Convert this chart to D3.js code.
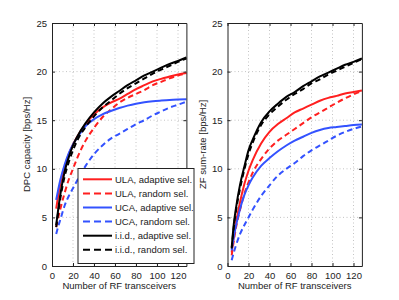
<!DOCTYPE html>
<html>
<head>
<meta charset="utf-8">
<script src="https://cdn.jsdelivr.net/npm/d3@7"></script>
<style>
  html, body { margin: 0; padding: 0; background: #fff; }
  svg { display: block; }
  text { font-family: "Liberation Sans", Arial, Helvetica, sans-serif; fill: #222; }
</style>
</head>
<body>
<svg id="chart" width="399" height="300"></svg>
<script>
// ---- data ----
const rfCounts = [4, 6, 8, 12, 16, 20, 24, 32, 40, 48, 56, 64, 72, 80, 88, 96, 104, 112, 120, 128];
const xTicks = [0, 20, 40, 60, 80, 100, 120];
const yTicks = [0, 5, 10, 15, 20, 25];
const seriesNames = ["ULA, adaptive sel.", "ULA, random sel.", "UCA, adaptive sel.", "UCA, random sel.", "i.i.d., adaptive sel.", "i.i.d., random sel."];

const dpcUlaAdaptive = [5.9, 7.3, 8.5, 10.2, 11.5, 12.5, 13.3, 14.6, 15.6, 16.3, 16.8, 17.2, 17.7, 18.2, 18.6, 19.0, 19.25, 19.5, 19.7, 19.85];
const dpcUlaRandom   = [4.0, 5.0, 5.9, 7.5, 8.9, 10.0, 11.1, 12.9, 14.2, 15.3, 16.1, 16.8, 17.3, 17.7, 18.1, 18.6, 18.95, 19.3, 19.6, 19.8];
const dpcUcaAdaptive = [6.8, 7.9, 8.9, 10.4, 11.6, 12.5, 13.2, 14.4, 15.1, 15.6, 15.95, 16.25, 16.5, 16.7, 16.85, 16.95, 17.02, 17.08, 17.12, 17.15];
const dpcUcaRandom   = [3.3, 4.1, 4.8, 6.2, 7.2, 8.0, 8.8, 10.3, 11.5, 12.4, 13.1, 13.6, 14.1, 14.6, 15.0, 15.5, 15.9, 16.3, 16.6, 16.9];
const dpcIidAdaptive = [4.2, 5.9, 7.4, 9.7, 11.2, 12.4, 13.3, 14.7, 15.8, 16.7, 17.4, 18.0, 18.6, 19.1, 19.6, 20.0, 20.4, 20.8, 21.1, 21.45];
const dpcIidRandom   = [4.0, 5.6, 7.0, 9.2, 10.7, 11.9, 12.9, 14.3, 15.4, 16.3, 17.0, 17.7, 18.3, 18.8, 19.3, 19.8, 20.2, 20.6, 21.0, 21.35];

const zfUlaAdaptive = [1.4, 3.0, 4.4, 6.6, 8.4, 9.8, 10.9, 12.6, 13.8, 14.6, 15.2, 15.8, 16.2, 16.6, 17.0, 17.3, 17.5, 17.75, 17.9, 18.05];
const zfUlaRandom   = [1.1, 2.6, 3.9, 5.8, 7.4, 8.6, 9.6, 11.0, 12.1, 12.9, 13.5, 14.1, 14.7, 15.3, 15.8, 16.3, 16.8, 17.25, 17.65, 18.0];
const zfUcaAdaptive = [1.6, 3.0, 4.1, 5.9, 7.3, 8.3, 9.1, 10.3, 11.1, 11.8, 12.4, 12.9, 13.3, 13.7, 14.0, 14.2, 14.3, 14.4, 14.5, 14.55];
const zfUcaRandom   = [0.6, 1.4, 2.1, 3.3, 4.2, 5.0, 5.8, 7.2, 8.3, 9.3, 10.0, 10.6, 11.3, 11.9, 12.4, 12.9, 13.4, 13.8, 14.1, 14.35];
const zfIidAdaptive = [1.9, 4.3, 5.9, 8.4, 10.2, 11.9, 13.0, 14.8, 15.9, 16.7, 17.4, 17.9, 18.5, 19.0, 19.5, 19.9, 20.3, 20.7, 21.0, 21.35];
const zfIidRandom   = [1.8, 4.0, 5.6, 8.0, 9.9, 11.5, 12.7, 14.5, 15.6, 16.4, 17.1, 17.7, 18.2, 18.8, 19.2, 19.7, 20.1, 20.5, 20.9, 21.3];

// ---- styles ----
const colors = ["#ff1f1f", "#ff1f1f", "#3352ff", "#3352ff", "#000000", "#000000"];
const dashed = [false, true, false, true, false, true];

const svg = d3.select("#chart");
const plotTop = 23, plotBottom = 266;

const panels = [
  { left: 52, right: 186.4, label: "DPC capacity [bps/Hz]", labelX: 30,
    series: [dpcUlaAdaptive, dpcUlaRandom, dpcUcaAdaptive, dpcUcaRandom, dpcIidAdaptive, dpcIidRandom], legend: true },
  { left: 227.5, right: 361.9, label: "ZF sum-rate [bps/Hz]", labelX: 206,
    series: [zfUlaAdaptive, zfUlaRandom, zfUcaAdaptive, zfUcaRandom, zfIidAdaptive, zfIidRandom], legend: false }
];

panels.forEach(p => {
  const x = d3.scaleLinear().domain([0, 128]).range([p.left, p.right]);
  const y = d3.scaleLinear().domain([0, 25]).range([plotBottom, plotTop]);
  const g = svg.append("g");

  g.append("rect").attr("x", p.left).attr("y", plotTop)
    .attr("width", p.right - p.left).attr("height", plotBottom - plotTop).attr("fill", "#fff");

  // grid
  const grid = g.append("g").attr("stroke", "#b5b5b5").attr("stroke-width", 0.8)
    .attr("stroke-dasharray", "1,2.5");
  xTicks.filter(t => t > 0).forEach(t => {
    grid.append("line").attr("x1", x(t)).attr("x2", x(t)).attr("y1", plotTop).attr("y2", plotBottom);
  });
  yTicks.filter(t => t > 0 && t < 25).forEach(t => {
    grid.append("line").attr("x1", p.left).attr("x2", p.right).attr("y1", y(t)).attr("y2", y(t));
  });

  // curves
  const line = d3.line().x((d, i) => x(rfCounts[i])).y(d => y(d)).curve(d3.curveMonotoneX);
  p.series.forEach((s, i) => {
    g.append("path").datum(s).attr("d", line).attr("fill", "none")
      .attr("stroke", colors[i]).attr("stroke-width", 2)
      .attr("stroke-dasharray", dashed[i] ? "5.5,3.5" : null);
  });

  // axes (ticks inward, box)
  const axB = d3.axisBottom(x).tickValues(xTicks).tickSizeInner(-3).tickSizeOuter(0).tickPadding(6);
  const axL = d3.axisLeft(y).tickValues(yTicks).tickSizeInner(-3).tickSizeOuter(0).tickPadding(5);
  const axT = d3.axisTop(x).tickValues(xTicks).tickSizeInner(-3).tickSizeOuter(0).tickFormat("");
  const axR = d3.axisRight(y).tickValues(yTicks).tickSizeInner(-3).tickSizeOuter(0).tickFormat("");
  const gb = g.append("g").attr("transform", `translate(0,${plotBottom})`).call(axB);
  const gl = g.append("g").attr("transform", `translate(${p.left},0)`).call(axL);
  const gt = g.append("g").attr("transform", `translate(0,${plotTop})`).call(axT);
  const gr = g.append("g").attr("transform", `translate(${p.right},0)`).call(axR);
  [gb, gl, gt, gr].forEach(a => {
    a.selectAll("path").attr("stroke", "#222").attr("stroke-width", 1);
    a.selectAll("line").attr("stroke", "#222").attr("stroke-width", 1);
    a.selectAll("text").attr("font-size", "9.5px").attr("fill", "#222")
      .attr("font-family", "'Liberation Sans', Arial, sans-serif");
  });

  // labels
  svg.append("text").attr("x", (p.left + p.right) / 2).attr("y", 289)
    .attr("text-anchor", "middle").attr("font-size", "9.5px").text("Number of RF transceivers");
  svg.append("text").attr("transform", `translate(${p.labelX},${(plotTop + plotBottom) / 2}) rotate(-90)`)
    .attr("text-anchor", "middle").attr("font-size", "9.5px").text(p.label);

  // legend
  if (p.legend) {
    const lg = svg.append("g");
    lg.append("rect").attr("x", 78).attr("y", 168.5).attr("width", 116).attr("height", 95)
      .attr("fill", "#fff").attr("stroke", "#222").attr("stroke-width", 1);
    seriesNames.forEach((name, i) => {
      const yy = 179.3 + i * 14.1;
      lg.append("line").attr("x1", 83).attr("x2", 112).attr("y1", yy).attr("y2", yy)
        .attr("stroke", colors[i]).attr("stroke-width", 2)
        .attr("stroke-dasharray", dashed[i] ? "7,4" : null);
      lg.append("text").attr("x", 115).attr("y", yy + 3.4).attr("font-size", "9.5px").text(name);
    });
  }
});
</script>
</body>
</html>
